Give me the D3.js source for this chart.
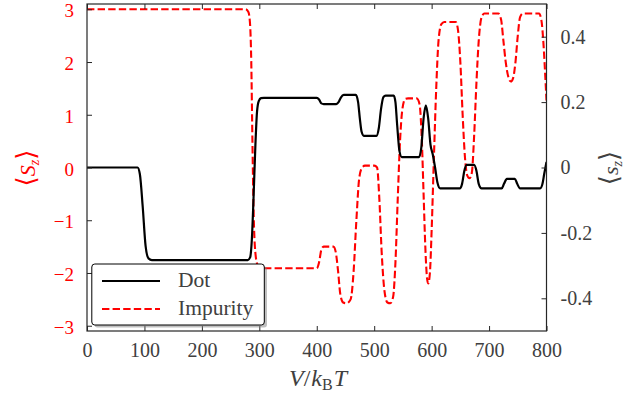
<!DOCTYPE html>
<html>
<head>
<meta charset="utf-8">
<script src="https://cdn.jsdelivr.net/npm/d3@7"></script>
<style>
  html, body { margin: 0; padding: 0; background: #fff; }
  svg { display: block; }
  text { font-family: "Liberation Serif", "DejaVu Serif", serif; }
</style>
</head>
<body>
<svg id="chart" width="643" height="394"></svg>
<script>
// ---- data ----
const dotV = [0, 88, 92, 97, 102, 107, 113, 280, 284, 287, 290, 293, 296, 299, 303, 308,
  400, 404, 408, 412, 434, 438, 442, 447, 468, 472, 475, 478, 482, 504, 508, 512, 516, 520,
  534, 537, 540, 544, 548, 578, 582, 586, 590, 594, 598, 602, 606, 610, 615,
  649, 653, 657, 661, 674, 678, 682, 687, 722, 726, 731, 745, 749, 754, 789, 793, 796, 800];
const dotS = [0, 0, -0.02, -0.12, -0.24, -0.278, -0.283, -0.283, -0.275, -0.22, -0.09, 0.06, 0.17, 0.203, 0.212, 0.213,
  0.213, 0.208, 0.196, 0.194, 0.194, 0.2, 0.214, 0.222, 0.222, 0.2, 0.15, 0.11, 0.097, 0.097, 0.12, 0.18, 0.215, 0.22,
  0.22, 0.2, 0.13, 0.05, 0.032, 0.032, 0.06, 0.15, 0.19, 0.15, 0.07, 0.04, 0.0, -0.045, -0.064,
  -0.064, -0.05, -0.01, 0.008, 0.008, -0.01, -0.05, -0.064, -0.064, -0.05, -0.035, -0.035, -0.05, -0.064, -0.064, -0.05, -0.02, 0.017];

const impV = [0, 276, 281, 284, 286, 288, 290, 293, 297, 303, 400, 404, 408, 412, 429, 433, 437, 441, 446, 452, 459,
  464, 469, 474, 479, 484, 500, 505, 509, 513, 518, 523, 528, 533, 537, 541, 545, 549, 554, 559, 574, 579, 583, 586,
  589, 592, 594, 597, 600, 604, 608, 612, 617, 622, 642, 646, 650, 654, 658, 662, 666, 670, 674, 678, 682, 687, 692,
  716, 721, 725, 729, 734, 738, 742, 746, 750, 754, 759, 787, 791, 795, 798, 800];
const impS = [3.0, 3.0, 2.95, 2.7, 2.0, 0.5, -0.8, -1.6, -1.85, -1.91, -1.91, -1.8, -1.56, -1.5, -1.5, -1.6, -1.95,
  -2.4, -2.56, -2.575, -2.5, -2.0, -1.0, -0.2, 0.0, 0.035, 0.035, 0.0, -0.6, -1.6, -2.35, -2.56, -2.575, -2.45,
  -1.8, -0.6, 0.5, 1.1, 1.3, 1.31, 1.31, 1.2, 0.5, -0.5, -1.5, -2.1, -2.2, -2.0, -1.2, 0.2, 1.5, 2.4, 2.72, 2.76,
  2.76, 2.6, 2.0, 1.0, 0.2, -0.15, -0.205, -0.1, 0.6, 1.6, 2.4, 2.85, 2.92, 2.92, 2.8, 2.4, 2.0, 1.7, 1.63, 1.7,
  2.0, 2.5, 2.85, 2.92, 2.92, 2.8, 2.3, 1.7, 1.27];

const xTicks = [0, 100, 200, 300, 400, 500, 600, 700, 800];
const leftTicks = [-3, -2, -1, 0, 1, 2, 3];
const rightTicks = [-0.4, -0.2, 0, 0.2, 0.4];
const rightTickLabels = ["-0.4", "-0.2", "0", "0.2", "0.4"];
const legendLabels = ["Dot", "Impurity"];

// ---- layout ----
const svg = d3.select("#chart");
const L = 87, R = 546.5, T = 4, B = 331;
const x = d3.scaleLinear().domain([0, 800]).range([L, R]);
const yL = d3.scaleLinear().domain([-3.1, 3.1]).range([B, T]);
const yR = d3.scaleLinear().domain([-0.5, 0.5]).range([B, T]);
const RED = "#ff0000", GRAY = "#404040", FRAME = "#262626";
const TICK = 5;

svg.append("defs").append("clipPath").attr("id", "clip")
  .append("rect").attr("x", L).attr("y", T).attr("width", R - L).attr("height", B - T);

// lines
const dotLine = d3.line().x((d, i) => x(dotV[i])).y(d => yR(d)).curve(d3.curveMonotoneX);
const impLine = d3.line().x((d, i) => x(impV[i])).y(d => yL(d)).curve(d3.curveMonotoneX);

const g = svg.append("g").attr("clip-path", "url(#clip)");
g.append("path").datum(impS).attr("d", impLine)
  .attr("fill", "none").attr("stroke", RED).attr("stroke-width", 2.1)
  .attr("stroke-dasharray", "7.4,3.2");
g.append("path").datum(dotS).attr("d", dotLine)
  .attr("fill", "none").attr("stroke", "#000").attr("stroke-width", 2.2);

// axes (ticks inward)
const axB = d3.axisBottom(x).tickValues(xTicks).tickSize(-TICK).tickPadding(12).tickFormat(d3.format("d"));
const gB = svg.append("g").attr("transform", `translate(0,${B})`).call(axB);
const axTop = d3.axisTop(x).tickValues(xTicks).tickSize(-TICK).tickFormat("");
const gT = svg.append("g").attr("transform", `translate(0,${T})`).call(axTop);
const axLft = d3.axisLeft(yL).tickValues(leftTicks).tickSize(-TICK).tickPadding(13)
  .tickFormat(d => d < 0 ? "\u2212" + Math.abs(d) : String(d));
const gL = svg.append("g").attr("transform", `translate(${L},0)`).call(axLft);
const axRgt = d3.axisRight(yR).tickValues(rightTicks).tickSize(-TICK).tickPadding(14)
  .tickFormat((d, i) => rightTickLabels[i]);
const gR = svg.append("g").attr("transform", `translate(${R},0)`).call(axRgt);

[gB, gT, gL, gR].forEach(a => {
  a.select(".domain").remove();
  a.selectAll(".tick line").attr("stroke", FRAME).attr("stroke-width", 1);
  a.selectAll("text").attr("font-family", "Liberation Serif, serif").attr("font-size", 20);
});
gB.selectAll("text").attr("fill", GRAY);
gL.selectAll("text").attr("fill", RED).attr("font-size", 19).attr("dy", "0.4em");
gR.selectAll("text").attr("fill", GRAY);

// frame
svg.append("rect").attr("x", L).attr("y", T).attr("width", R - L).attr("height", B - T)
  .attr("fill", "none").attr("stroke", FRAME).attr("stroke-width", 1.2);

// axis labels
const xl = svg.append("text").attr("x", 318).attr("y", 386).attr("text-anchor", "middle")
  .attr("font-size", 24).attr("fill", GRAY);
xl.append("tspan").attr("font-style", "italic").text("V");
xl.append("tspan").text("/");
xl.append("tspan").attr("font-style", "italic").attr("dx", 1).text("k");
xl.append("tspan").attr("font-size", 16).attr("dy", 4).text("B");
xl.append("tspan").attr("font-style", "italic").attr("dy", -4).attr("dx", 1).text("T");

const yl = svg.append("text").attr("transform", "translate(35,168) rotate(-90)")
  .attr("text-anchor", "middle").attr("font-size", 22).attr("fill", RED);
yl.append("tspan").attr("font-size", 26).text("\u27E8");
yl.append("tspan").attr("font-style", "italic").text("S");
yl.append("tspan").attr("font-style", "italic").attr("font-size", 14).attr("dy", 4).text("z");
yl.append("tspan").attr("font-size", 26).attr("dy", -4).text("\u27E9");

const yr = svg.append("text").attr("transform", "translate(618,168) rotate(-90)")
  .attr("text-anchor", "middle").attr("font-size", 22).attr("fill", GRAY);
yr.append("tspan").attr("font-size", 26).text("\u27E8");
yr.append("tspan").attr("font-style", "italic").text("s");
yr.append("tspan").attr("font-style", "italic").attr("font-size", 14).attr("dy", 4).text("z");
yr.append("tspan").attr("font-size", 26).attr("dy", -4).text("\u27E9");

// legend
const lg = svg.append("g");
lg.append("rect").attr("x", 94.5).attr("y", 266.5).attr("width", 172.5).attr("height", 61).attr("rx", 3)
  .attr("fill", "#808080").attr("opacity", 0.5);
lg.append("rect").attr("x", 91.8).attr("y", 264).attr("width", 172.5).attr("height", 61).attr("rx", 3)
  .attr("fill", "#fff").attr("stroke", "#000").attr("stroke-width", 1);
const items = [
  { label: legendLabels[0], color: "#000", dash: null, y: 281 },
  { label: legendLabels[1], color: RED, dash: "7.4,3.2", y: 309 }
];
items.forEach(it => {
  const ln = lg.append("line").attr("x1", 102).attr("x2", 160).attr("y1", it.y).attr("y2", it.y)
    .attr("stroke", it.color).attr("stroke-width", 2);
  if (it.dash) ln.attr("stroke-dasharray", it.dash);
  lg.append("text").attr("x", 178).attr("y", it.y + 6).attr("font-size", 21.5).attr("fill", GRAY).text(it.label);
});
</script>
</body>
</html>
